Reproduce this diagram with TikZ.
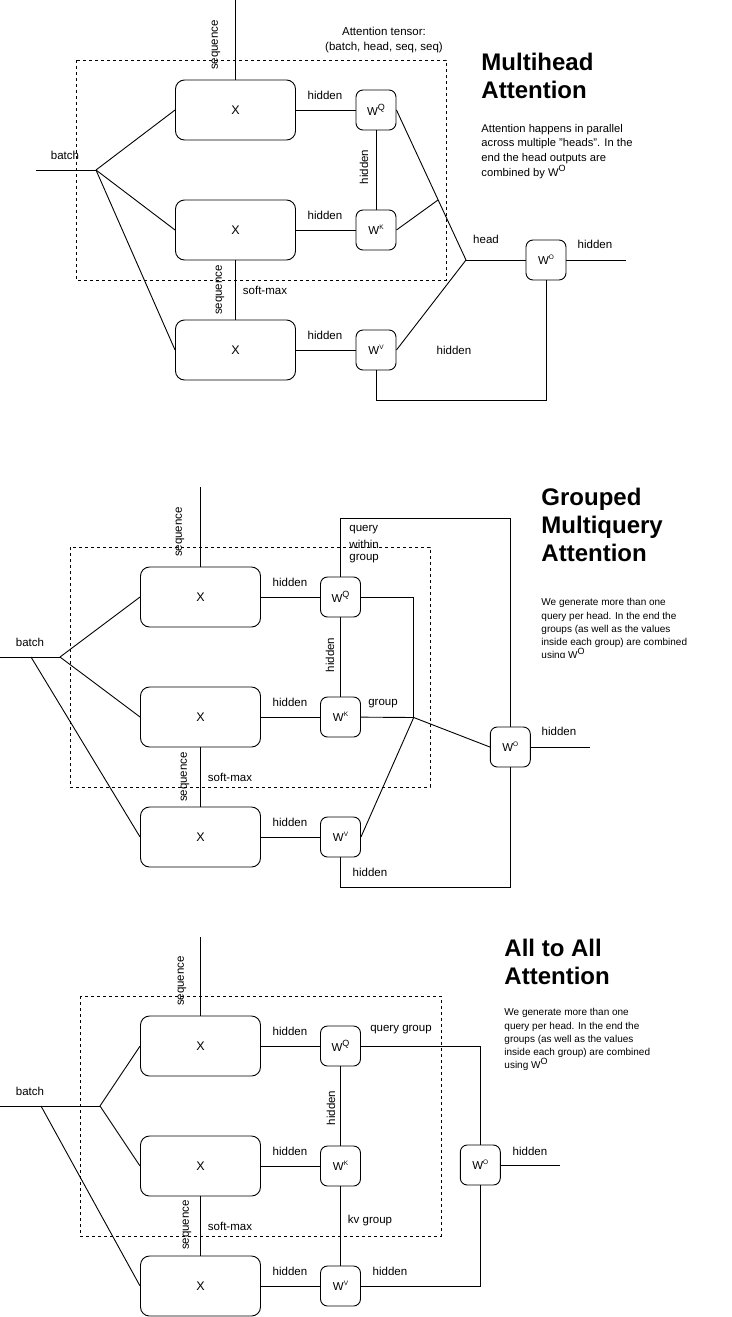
\documentclass[tikz,border=0pt]{standalone}
\usepackage{fontspec}
\setmainfont{Liberation Sans}
\newcommand{\bigsup}[1]{W\raisebox{4.5pt}{\fontsize{9}{9}\selectfont #1}}
\newcommand{\smallsup}[1]{W\raisebox{5pt}{\fontsize{6.5}{6.5}\selectfont #1}}

\begin{document}
\begin{tikzpicture}[x=1pt, y=-1pt, line width=0.9pt,
    xbox/.style={draw, rounded corners=9pt, minimum width=120pt, minimum height=60pt, inner sep=0pt, font=\fontsize{12.5}{14}\selectfont},
    wbox/.style={draw, rounded corners=7pt, minimum size=40pt, inner sep=0pt, font=\fontsize{11.5}{13}\selectfont},
    lbl/.style={inner sep=0pt, font=\fontsize{11.5}{13}\selectfont},
    vlbl/.style={lbl, rotate=90},
    dbox/.style={dash pattern=on 3pt off 3pt, line width=0.8pt},
    headtext/.style={anchor=north west, inner sep=0pt, align=left, font=\fontsize{24}{28}\selectfont\bfseries},
    desctext/.style={anchor=north west, inner sep=0pt, align=left}]
    \useasboundingbox (0,0) rectangle (731,1317);

    % Multihead attention: nodes
    \draw [dbox] (76,60) rectangle (446,280);
    \node (mX1) at (235.5,110) [xbox] {X};
    \node (mX2) at (235.5,230) [xbox] {X};
    \node (mX3) at (235.5,350) [xbox] {X};
    \node (mQ) at (376,110) [wbox] {\bigsup{Q}};
    \node (mK) at (376,230) [wbox] {\smallsup{K}};
    \node (mV) at (376,350) [wbox] {\smallsup{V}};
    \node (mO) at (546,260) [wbox] {\smallsup{O}};
    \coordinate (mIn) at (36,170);
    \coordinate (mB) at (96,170);
    \coordinate (mSeq) at (235.5,0);
    \coordinate (mBend) at (438,200);
    \coordinate (mH) at (466,260);
    \coordinate (mOut) at (626,260);
    \coordinate (mV1) at (376,400);
    \coordinate (mV2) at (546,400);

    % Multihead attention: lines
    \draw (mIn) -- (mB);
    \draw (mB) -- (mX1.west);
    \draw (mB) -- (mX2.west);
    \draw (mB) -- (mX3.west);
    \draw (mSeq) -- (mX1);
    \draw (mX2) -- (mX3);
    \draw (mX1) -- (mQ);
    \draw (mX2) -- (mK);
    \draw (mX3) -- (mV);
    \draw (mQ) -- (mK);
    \draw (mQ.east) -- (mH);
    \draw (mK.east) -- (mBend);
    \draw (mV.east) -- (mH);
    \draw (mH) -- (mO);
    \draw (mO) -- (mOut);
    \draw (mV) -- (mV1) -- (mV2) -- (mO);

    % Multihead attention: labels
    \node (mLbatch) at (65,155) [lbl] {batch};
    \node (mLseq1) at (216,45) [vlbl] {sequence};
    \node (mLseq2) at (220,290) [vlbl] {sequence};
    \node (mLsoft) at (265,290) [lbl] {soft-max};
    \node (mLh1) at (325,95) [lbl] {hidden};
    \node (mLh2) at (325,215) [lbl] {hidden};
    \node (mLh3) at (325,335) [lbl] {hidden};
    \node (mLh4) at (364,167) [vlbl] {hidden};
    \node (mLhead) at (486,239) [lbl] {head};
    \node (mLh5) at (595,244) [lbl] {hidden};
    \node (mLh6) at (454,350) [lbl] {hidden};
    \node (mLtensor) at (384,40.5) [lbl, align=center, font=\fontsize{11.5}{15}\selectfont] {Attention tensor:\\(batch, head, seq, seq)};
    \node (mTitle) at (481,53) [headtext] {Multihead\\Attention};
    \node (mDesc) at (481,123.5) [desctext, font=\fontsize{11.2}{14.8}\selectfont] {Attention happens in parallel\\across multiple "heads". In the\\end the head outputs are\\combined by \bigsup{O}};

    % Grouped multiquery attention: nodes
    \draw [dbox] (70,547) rectangle (430,787);
    \node (gX1) at (200.5,597) [xbox] {X};
    \node (gX2) at (200.5,717) [xbox] {X};
    \node (gX3) at (200.5,837) [xbox] {X};
    \node (gQ) at (340.5,597) [wbox] {\bigsup{Q}};
    \node (gK) at (340.5,717) [wbox] {\smallsup{K}};
    \node (gV) at (340.5,837) [wbox] {\smallsup{V}};
    \node (gO) at (510.3,747) [wbox] {\smallsup{O}};
    \coordinate (gIn) at (0,657);
    \coordinate (gB) at (60,657);
    \coordinate (gB2) at (31,657);
    \coordinate (gSeq) at (200.5,487);
    \coordinate (gTop1) at (340.5,518);
    \coordinate (gTop2) at (510.3,518);
    \coordinate (gQr) at (413.7,597);
    \coordinate (gJ) at (413.7,717.5);
    \coordinate (gOut) at (590,747);
    \coordinate (gV1) at (340.5,887);
    \coordinate (gV2) at (510.3,887);

    % Grouped multiquery attention: lines
    \draw (gIn) -- (gB);
    \draw (gB) -- (gX1.west);
    \draw (gB) -- (gX2.west);
    \draw (gB2) -- (gX3.west);
    \draw (gSeq) -- (gX1);
    \draw (gX2) -- (gX3);
    \draw (gX1) -- (gQ);
    \draw (gX2) -- (gK);
    \draw (gX3) -- (gV);
    \draw (gQ) -- (gK);
    \draw (gQ) -- (gTop1) -- (gTop2) -- (gO);
    \draw (gQ) -- (gQr) -- (gJ);
    \draw (gK) -- (gJ);
    \draw (gV.east) -- (gJ);
    \draw (gJ) -- (gO.west);
    \draw (gO) -- (gOut);
    \draw (gV) -- (gV1) -- (gV2) -- (gO);

    % Grouped multiquery attention: labels
    \node (gLbatch) at (30,642) [lbl] {batch};
    \node (gLseq1) at (180,532) [vlbl] {sequence};
    \node (gLseq2) at (185,777) [vlbl] {sequence};
    \node (gLsoft) at (230,777) [lbl] {soft-max};
    \node (gLh1) at (290,582) [lbl] {hidden};
    \node (gLh2) at (290,702) [lbl] {hidden};
    \node (gLh3) at (290,822) [lbl] {hidden};
    \node (gLh4) at (330,655) [vlbl] {hidden};
    \node (gLq1) at (349,530) [lbl, anchor=west] {query};
    \node (gLq2) at (349,544.5) [lbl, anchor=west] {within};
    \node (gLq3) at (349,559) [lbl, anchor=west] {group};
    \node (gLgroup) at (383,704) [lbl] {group};
    \node (gLh5) at (559,731) [lbl] {hidden};
    \node (gLh6) at (370,872) [lbl] {hidden};
    \node (gTitle) at (541,488) [headtext] {Grouped\\Multiquery\\Attention};
    \begin{scope}
        \clip (530,590) rectangle (731,657);
        \node (gDesc) at (541,598) [desctext, font=\fontsize{10}{13.3}\selectfont] {We generate more than one\\query per head. In the end the\\groups (as well as the values\\inside each group) are combined\\using \bigsup{O}};
    \end{scope}

    % All to all attention: nodes
    \draw [dbox] (80,996) rectangle (441,1236);
    \node (aX1) at (200.5,1046) [xbox] {X};
    \node (aX2) at (200.5,1166) [xbox] {X};
    \node (aX3) at (200.5,1286) [xbox] {X};
    \node (aQ) at (340.5,1046) [wbox] {\bigsup{Q}};
    \node (aK) at (340.5,1166) [wbox] {\smallsup{K}};
    \node (aV) at (340.5,1286) [wbox] {\smallsup{V}};
    \node (aO) at (480.3,1165) [wbox] {\smallsup{O}};
    \coordinate (aIn) at (0,1106);
    \coordinate (aB) at (100,1106);
    \coordinate (aB2) at (41,1106);
    \coordinate (aSeq) at (200.5,937);
    \coordinate (aQr) at (480.3,1046);
    \coordinate (aVr) at (480.3,1286);
    \coordinate (aOut) at (560.3,1165);

    % All to all attention: lines
    \draw (aIn) -- (aB);
    \draw (aB) -- (aX1.west);
    \draw (aB) -- (aX2.west);
    \draw (aB2) -- (aX3.west);
    \draw (aSeq) -- (aX1);
    \draw (aX2) -- (aX3);
    \draw (aX1) -- (aQ);
    \draw (aX2) -- (aK);
    \draw (aX3) -- (aV);
    \draw (aQ) -- (aK);
    \draw (aK) -- (aV);
    \draw (aQ) -- (aQr) -- (aO);
    \draw (aV) -- (aVr) -- (aO);
    \draw (aO) -- (aOut);

    % All to all attention: labels
    \node (aLbatch) at (30,1091) [lbl] {batch};
    \node (aLseq1) at (182,981) [vlbl] {sequence};
    \node (aLseq2) at (187,1225) [vlbl] {sequence};
    \node (aLsoft) at (230,1226) [lbl] {soft-max};
    \node (aLh1) at (290,1031) [lbl] {hidden};
    \node (aLh2) at (290,1151) [lbl] {hidden};
    \node (aLh3) at (290,1271) [lbl] {hidden};
    \node (aLh4) at (331,1108) [vlbl] {hidden};
    \node (aLqg) at (401,1030) [lbl] {query group};
    \node (aLkv) at (370,1221) [lbl] {kv group};
    \node (aLh5) at (390,1271) [lbl] {hidden};
    \node (aLh6) at (530,1151) [lbl] {hidden};
    \node (aTitle) at (504,939) [headtext] {All to All\\Attention};
    \node (aDesc) at (504,1008) [desctext, font=\fontsize{10}{13.3}\selectfont] {We generate more than one\\query per head. In the end the\\groups (as well as the values\\inside each group) are combined\\using \bigsup{O}};
\end{tikzpicture}
\end{document}
